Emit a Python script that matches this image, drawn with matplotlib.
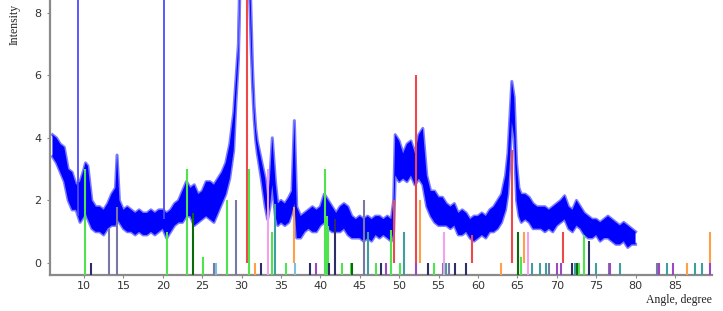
import matplotlib
matplotlib.use("Agg")
import matplotlib.pyplot as plt

# ---------------- data ----------------
# measured XRD pattern, read as lower / upper envelope of the noisy trace
angle = [6.0, 6.5, 7.0, 7.5, 8.0, 8.5, 9.0, 9.5, 10.0, 10.2, 10.5, 11.0, 11.5, 12.0, 12.5,
         13.0, 13.5, 14.0, 14.2, 14.5, 15.0, 15.5, 16.0, 16.5, 17.0, 17.5, 18.0, 18.5, 19.0,
         19.5, 20.0, 20.5, 21.0, 21.5, 22.0, 22.5, 23.0, 23.5, 24.0, 24.5, 25.0, 25.5, 26.0,
         26.5, 27.0, 27.5, 28.0, 28.5, 29.0, 29.3, 29.6, 29.8, 30.2, 30.8, 31.2, 31.4, 31.6,
         31.8, 32.0, 32.5, 33.0, 33.3, 33.6, 33.9, 34.3, 34.6, 35.0, 35.5, 36.0, 36.4, 36.7,
         37.0, 37.5, 38.0, 38.5, 39.0, 39.5, 40.0, 40.5, 41.0, 41.5, 42.0, 42.5, 43.0, 43.5,
         44.0, 44.5, 45.0, 45.5, 46.0, 46.5, 47.0, 47.5, 48.0, 48.5, 49.0, 49.3, 49.5, 50.0,
         50.5, 51.0, 51.5, 52.0, 52.5, 53.0, 53.5, 54.0, 54.5, 55.0, 55.5, 56.0, 56.5, 57.0,
         57.5, 58.0, 58.5, 59.0, 59.5, 60.0, 60.5, 61.0, 61.5, 62.0, 62.5, 63.0, 63.5, 63.8,
         64.0, 64.3, 64.6, 64.9, 65.2, 65.5, 66.0, 66.5, 67.0, 67.5, 68.0, 68.5, 69.0, 69.5,
         70.0, 70.5, 71.0, 71.5, 72.0, 72.5, 73.0, 73.5, 74.0, 74.5, 75.0, 75.5, 76.0, 76.5,
         77.0, 77.5, 78.0, 78.5, 79.0, 79.5, 80.0]
low = [3.4, 3.2, 2.9, 2.6, 2.0, 1.7, 1.7, 1.3, 1.5, 1.6, 1.4, 1.1, 1.0, 1.0, 0.9,
       1.1, 1.2, 1.2, 1.4, 1.3, 1.1, 1.0, 1.0, 0.9, 1.0, 0.9, 0.9, 1.0, 0.9,
       1.0, 1.1, 0.8, 1.0, 1.2, 1.3, 1.3, 1.5, 1.5, 1.2, 1.3, 1.4, 1.5, 1.4,
       1.3, 1.6, 1.9, 2.2, 2.7, 3.6, 5.2, 6.5, 8.8, 10.5, 10.5, 7.0, 5.6, 4.6,
       3.9, 3.5, 2.7, 1.8, 1.4, 1.8, 2.5, 1.5, 1.2, 1.3, 1.2, 1.3, 1.6, 1.9,
       0.8, 0.8, 1.0, 1.1, 1.0, 1.0, 1.2, 1.3, 1.1, 1.0, 1.0, 1.0, 1.1, 0.9,
       0.8, 0.8, 0.8, 0.7, 0.8, 0.7, 0.9, 0.8, 0.9, 0.8, 0.7, 1.0, 2.8, 2.6,
       2.7, 2.6, 2.8, 2.5, 2.7, 2.5, 1.8, 1.5, 1.3, 1.2, 1.2, 1.2, 1.1, 1.2,
       0.9, 0.9, 1.0, 0.8, 0.7, 0.8, 0.9, 0.8, 1.0, 1.0, 1.1, 1.3, 1.7, 2.2,
       3.0, 4.5, 4.0, 2.0, 1.5, 1.3, 1.4, 1.3, 1.1, 1.1, 1.1, 1.0, 1.1, 1.0,
       1.2, 1.3, 1.4, 1.1, 1.0, 1.2, 1.1, 0.9, 0.8, 0.8, 0.9, 0.7, 0.8, 0.8,
       0.7, 0.6, 0.6, 0.7, 0.5, 0.6, 0.6]
high = [4.1, 4.0, 3.8, 3.7, 3.0, 2.9, 2.5, 2.6, 3.0, 3.2, 3.1, 2.0, 1.8, 1.8, 1.7,
        1.9, 2.2, 2.4, 3.45, 2.0, 1.7, 1.8, 1.7, 1.6, 1.7, 1.6, 1.6, 1.7, 1.6,
        1.7, 1.7, 1.6, 1.7, 1.9, 2.0, 2.3, 2.6, 2.4, 2.5, 2.2, 2.3, 2.6, 2.6,
        2.5, 2.7, 2.9, 3.2, 3.8, 4.8, 5.9, 7.0, 9.5, 11.5, 11.5, 8.0, 6.2, 5.0,
        4.3, 3.9, 3.3, 2.7, 2.0, 2.7, 4.0, 2.6, 1.9, 2.0, 1.9, 2.1, 2.3, 4.55,
        1.8, 1.5, 1.6, 1.7, 1.8, 1.7, 1.8, 2.2, 2.0, 1.8, 1.6, 1.8, 1.9, 1.8,
        1.5, 1.4, 1.5, 1.4, 1.5, 1.4, 1.5, 1.5, 1.4, 1.5, 1.4, 2.0, 4.1, 3.9,
        3.5, 3.8, 3.9, 3.5, 4.1, 4.3, 2.8, 2.3, 2.3, 2.1, 2.1, 1.9, 1.8, 1.9,
        1.6, 1.7, 1.6, 1.4, 1.5, 1.5, 1.6, 1.5, 1.7, 1.8, 2.0, 2.2, 2.8, 3.5,
        4.4, 5.8, 5.3, 3.2, 2.4, 2.2, 2.2, 2.1, 1.9, 1.8, 1.8, 1.8, 1.7, 1.8,
        1.9, 2.0, 2.15, 1.8, 1.7, 2.0, 1.8, 1.6, 1.5, 1.4, 1.4, 1.3, 1.4, 1.5,
        1.4, 1.3, 1.2, 1.3, 1.2, 1.1, 1.0]
# single-point spikes in the measured trace
spike_angle = [9.3, 20.1]
spike_low = [1.5, 1.4]
spike_high = [12.0, 12.0]

# reference stick patterns (angle, relative intensity)
red_angle = [30.7, 49.4, 52.1, 59.3, 64.3, 70.8]
red_int = [12.0, 2.0, 6.0, 0.9, 3.6, 1.0]
orange_angle = [31.7, 36.7, 52.7, 62.9, 65.9, 86.5, 89.5]
orange_int = [0.0, 1.8, 2.0, 0.0, 1.0, 0.0, 1.0]
green_angle = [10.1, 20.5, 23.1, 25.1, 28.1, 31.0, 33.9, 35.6, 40.6, 40.8, 41.0, 42.8,
               43.9, 47.0, 48.95, 50.1, 54.4, 65.4, 72.8, 73.4]
green_int = [3.0, 1.0, 3.0, 0.2, 2.0, 3.0, 1.0, 0.0, 3.0, 1.5, 1.2, 0.0,
             0.0, 0.0, 1.05, 0.0, 0.0, 0.2, 0.0, 0.9]
dkgreen_angle = [23.8, 44.0, 65.1, 72.6]
dkgreen_int = [1.6, 0.0, 1.0, 0.0]
navy_angle = [10.85, 32.5, 38.7, 41.1, 41.9, 47.7, 53.6, 57.1, 58.5, 71.9, 74.1]
navy_int = [0.0, 0.0, 0.0, 0.0, 1.4, 0.0, 0.0, 0.0, 0.0, 0.0, 0.7]
slate_angle = [13.2, 14.2, 26.45, 29.3, 45.5, 55.5, 56.3, 69.0, 76.6, 82.7]
slate_int = [1.1, 1.8, 0.0, 2.0, 2.0, 0.0, 0.0, 0.0, 0.0, 0.0]
teal_angle = [34.3, 46.1, 50.6, 55.9, 66.9, 67.85, 68.6, 72.35, 75.0, 78.05, 84.0, 87.5, 88.4]
teal_int = [1.9, 1.0, 1.0, 0.0, 0.0, 0.0, 0.0, 0.0, 0.0, 0.0, 0.0, 0.0, 0.0]
ltblue_angle = [26.8, 36.75]
ltblue_int = [0.0, 0.0]
pink_angle = [33.3, 55.7, 66.4]
pink_int = [3.0, 1.0, 1.0]
violet_angle = [39.45, 48.3, 52.15, 70.0, 70.5, 76.8, 83.0, 84.8, 89.4]
violet_int = [0.0, 0.0, 0.0, 0.0, 0.0, 0.0, 0.0, 0.0, 0.0]

x_ticks = [10, 15, 20, 25, 30, 35, 40, 45, 50, 55, 60, 65, 70, 75, 80, 85]
y_ticks = [0, 2, 4, 6, 8]

# ---------------- plot ----------------
YMIN, YMAX = -0.38, 8.4
fig = plt.figure(figsize=(7.23, 3.11), dpi=100)
ax = fig.add_axes([50 / 723, 36 / 311, 662 / 723, 275 / 311])
ax.set_xlim(5.69, 89.7)
ax.set_ylim(YMIN, YMAX)

# soft fringe, then solid core of the noisy trace
ax.plot(angle, low, color="#7a7aff", lw=2.2, zorder=2)
ax.plot(angle, high, color="#7a7aff", lw=2.2, zorder=2)
ax.fill_between(angle, low, high, color="#0000ff", lw=0, zorder=2)
ax.vlines(spike_angle, spike_low, spike_high, color="#4b4bff", lw=1.3, zorder=2)

phases = [
    (red_angle, red_int, "#f04848", True),
    (orange_angle, orange_int, "#ffa048", True),
    (green_angle, green_int, "#4fe34f", False),
    (dkgreen_angle, dkgreen_int, "#0a6a0a", False),
    (navy_angle, navy_int, "#2e2e66", False),
    (slate_angle, slate_int, "#7878a6", False),
    (teal_angle, teal_int, "#3f9f9f", False),
    (ltblue_angle, ltblue_int, "#7cc0e0", False),
    (pink_angle, pink_int, "#f4a0ec", False),
    (violet_angle, violet_int, "#9a4ac0", False),
]
for ang, inten, col, from_zero in phases:
    bottoms = [0.0 if (from_zero and h > 0) else YMIN for h in inten]
    ax.vlines(ang, bottoms, inten, color=col, lw=1.5, zorder=3)

for s in ["top", "right"]:
    ax.spines[s].set_visible(False)
for s in ["left", "bottom"]:
    ax.spines[s].set_color("#8a8a8a")
    ax.spines[s].set_linewidth(1.6)

ax.set_xticks(x_ticks)
ax.set_yticks(y_ticks)
ax.tick_params(axis="both", length=2, color="#8a8a8a", labelsize=8, labelcolor="#333333")
ax.tick_params(axis="y", pad=4)
ax.tick_params(axis="x", pad=2)
for lab in ax.get_xticklabels() + ax.get_yticklabels():
    lab.set_family("DejaVu Sans")

fig.text(15 / 723, 1 - 24 / 311, "Intensity", rotation=90, ha="center", va="center",
         family="Liberation Serif", fontsize=8.5, color="#222222")
fig.text(712 / 723, 1 - 300 / 311, "Angle, degree", ha="right", va="center",
         family="Liberation Serif", fontsize=8.5, color="#222222")

fig.savefig("out.png", dpi=100)
